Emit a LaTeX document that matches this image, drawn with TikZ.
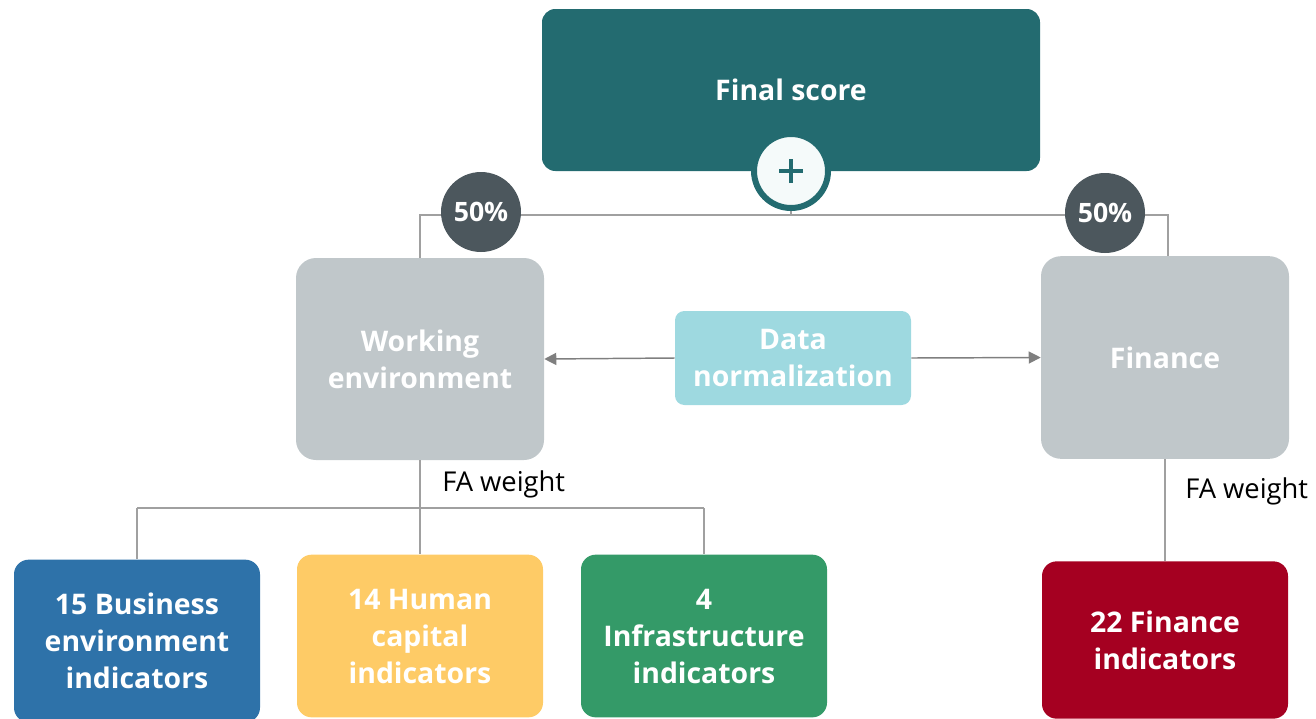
\documentclass[tikz,border=0pt]{standalone}
\usepackage{fontspec}
\setmainfont{Open Sans}
\usetikzlibrary{arrows.meta}
\definecolor{teal1}{HTML}{236B70}
\definecolor{darkc}{HTML}{4C575D}
\definecolor{lgray}{HTML}{C0C7CA}
\definecolor{dncol}{HTML}{9ED9E0}
\definecolor{bluec}{HTML}{2E72A9}
\definecolor{yellc}{HTML}{FECB66}
\definecolor{greenc}{HTML}{349A68}
\definecolor{redc}{HTML}{A50021}
\definecolor{linec}{HTML}{A0A0A0}
\definecolor{arrc}{HTML}{7F7F7F}
\definecolor{pluscol}{HTML}{F5FAFA}
\tikzset{
  boxstyle/.style={rectangle, rounded corners=11pt, align=center, text=white,
    font=\bfseries\fontsize{21.3}{27.75}\selectfont, inner sep=0pt},
  pct/.style={circle, fill=darkc, minimum size=60pt, inner sep=0pt, text=white,
    font=\bfseries\fontsize{20}{22}\selectfont},
  conn/.style={draw=linec, line width=1.1pt},
  arr/.style={draw=arrc, line width=1.1pt, -{Triangle[length=9pt,width=9pt]}},
  lbl/.style={font=\fontsize{20.5}{24}\selectfont, text=black, inner sep=0pt}
}
\begin{document}
\begin{tikzpicture}[x=0.75pt,y=-0.75pt]
\useasboundingbox (0,0) rectangle (1316,718);
% boxes
\node[boxstyle, fill=teal1, rounded corners=10pt, minimum width=373.5pt, minimum height=121.5pt] (final) at (791,90) {Final score};
\node[boxstyle, fill=lgray, rounded corners=15pt, minimum width=186pt, minimum height=151.5pt] (we) at (420,359) {Working\\environment};
\node[boxstyle, fill=lgray, rounded corners=15pt, minimum width=186pt, minimum height=152pt] (fin) at (1165,357.5) {Finance};
\node[boxstyle, fill=dncol, rounded corners=7pt, minimum width=177pt, minimum height=70.5pt] (dn) at (793,358) {Data\\normalization};
\node[boxstyle, fill=bluec, minimum width=184.5pt, minimum height=122pt] (b1) at (137,641) {15 Business\\environment\\indicators};
\node[boxstyle, fill=yellc, minimum width=184.5pt, minimum height=122pt] (b2) at (420,636) {14 Human\\capital\\indicators};
\node[boxstyle, fill=greenc, minimum width=184.5pt, minimum height=122pt] (b3) at (704,636) {4\\Infrastructure\\indicators};
\node[boxstyle, fill=redc, minimum width=184.5pt, minimum height=118pt] (b4) at (1165,640) {22 Finance\\indicators};
% junction coordinates
\coordinate (jL) at (420,215);
\coordinate (jR) at (1168,215);
\coordinate (jC) at (791,215);
\coordinate (hL) at (137,508);
\coordinate (hC) at (420,508);
\coordinate (hR) at (704,508);
% top tree lines
\draw[conn] (we.north) -- (jL) -- (jR) -- (1168,256);
\draw[conn] (jC) -- (791,205);
% plus circle
\node[circle, draw=teal1, line width=4.5pt, fill=pluscol, minimum size=55.5pt, inner sep=0pt] (plus) at (791,171) {};
\draw[teal1, line width=3.6pt] ([xshift=-9pt]plus.center) -- ([xshift=9pt]plus.center);
\draw[teal1, line width=3.6pt] ([yshift=-9pt]plus.center) -- ([yshift=9pt]plus.center);
% percentage circles
\node[pct] (pL) at (481,212) {50\%};
\node[pct] (pR) at (1105,213) {50\%};
% arrows
\draw[arr] (dn.west) -- (we.east);
\draw[arr] (dn.east) -- (fin.west);
% lower tree
\draw[conn] (we.south) -- (hC) -- (b2.north);
\draw[conn] (hL) -- (hR);
\draw[conn] (hL) -- (b1.north);
\draw[conn] (hR) -- (b3.north);
\draw[conn] (fin.south) -- (b4.north);
% labels
\node[lbl, anchor=west] (fa1) at (442,484) {FA weight};
\node[lbl, anchor=west] (fa2) at (1185,491) {FA weight};
\end{tikzpicture}
\end{document}
